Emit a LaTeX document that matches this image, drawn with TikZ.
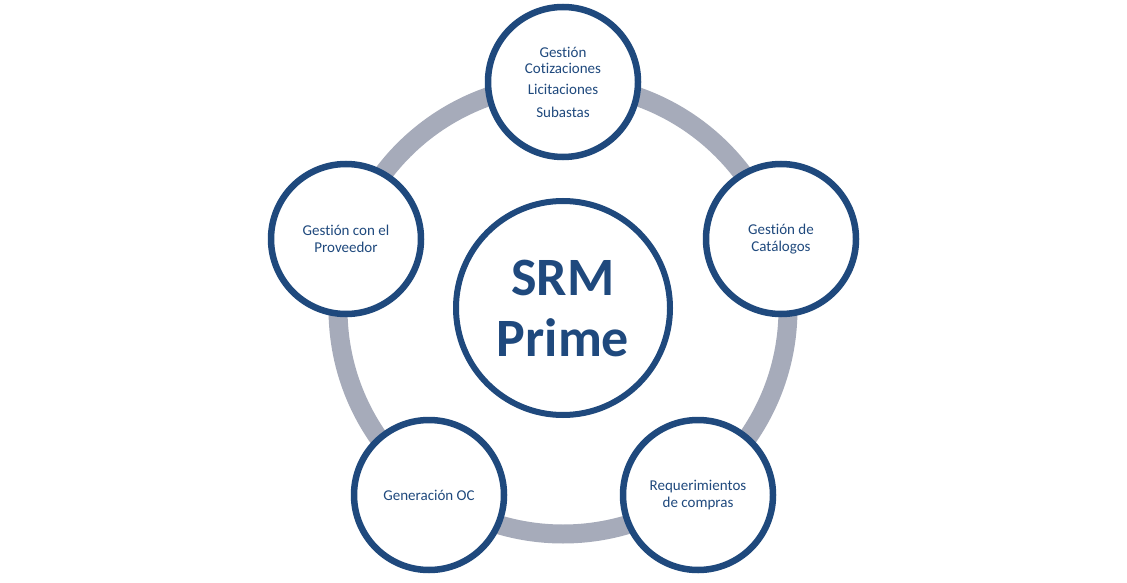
\documentclass[tikz,border=0pt]{standalone}
\usepackage{fontspec}
\setmainfont[Ligatures=NoCommon]{Carlito}
\usetikzlibrary{shadows}
\definecolor{srmblue}{HTML}{1F497D}
\definecolor{ringgray}{HTML}{A6ABBA}
\tikzset{
  ringline/.style={draw=ringgray, line width=19pt},
  sat/.style={circle, draw=srmblue, fill=white, line width=6.5pt, minimum size=150pt, inner sep=0pt,
    text=srmblue, align=center, font=\fontsize{15}{16.5}\selectfont,
    drop shadow={shadow xshift=0pt, shadow yshift=-2.5pt, opacity=0.18, fill=black}},
  hub/.style={circle, draw=srmblue, fill=white, line width=6pt, minimum size=214pt, inner sep=0pt,
    text=srmblue, align=center, font=\fontsize{54}{61}\selectfont\bfseries,
    drop shadow={shadow xshift=0pt, shadow yshift=-2.5pt, opacity=0.18, fill=black}}
}
\begin{document}
\begin{tikzpicture}[x=1pt,y=-1pt]
\useasboundingbox[fill=white] (0,0) rectangle (1127,583);
\coordinate (ringc) at (563,309);
\draw[ringline] (ringc) circle (225);
\node[hub] (hubn) at (563,308) {SRM\\Prime};
\node[sat] (top) at (563,82) {Gestión\\Cotizaciones\\[4.5pt]Licitaciones\\[6pt]Subastas};
\node[sat] (right) at (781,239) {Gestión de\\Catálogos};
\node[sat] (left) at (346,239) {Gestión con el\\Proveedor};
\node[sat] (brt) at (698,495) {Requerimientos\\de compras};
\node[sat] (blt) at (429,495) {Generación OC};
\end{tikzpicture}
\end{document}
